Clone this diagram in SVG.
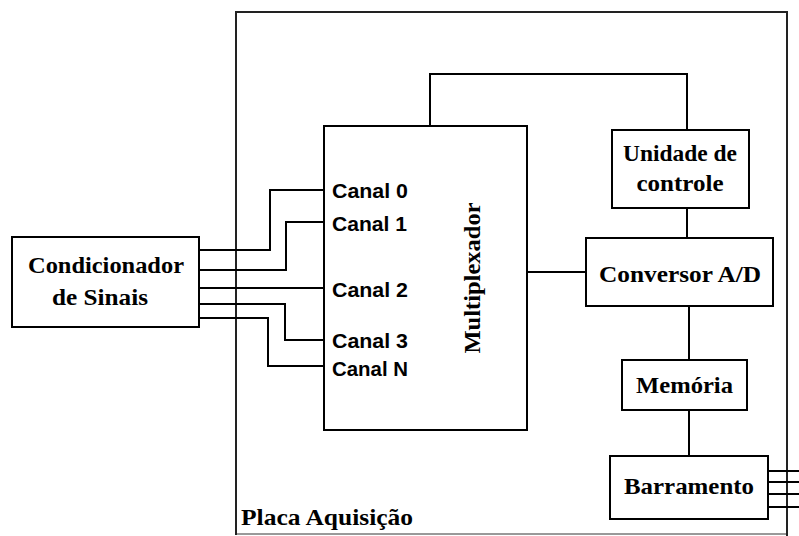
<svg xmlns="http://www.w3.org/2000/svg" width="799" height="536" viewBox="0 0 799 536">
<style>
.box{fill:none;stroke:#000;stroke-width:2}
.placa{fill:none;stroke:#222;stroke-width:2}
.placa-bottom{fill:none;stroke:#999;stroke-width:2}
.wire{fill:none;stroke:#000;stroke-width:2}
.lbl{font-family:"Liberation Serif","Times New Roman",serif;font-weight:bold;font-size:24px;fill:#000}
.ch{font-family:"Liberation Sans",Arial,sans-serif;font-weight:bold;font-size:21px;fill:#000}
</style>
<rect width="799" height="536" fill="#fff"/>
<g id="placa">
<line class="placa-bottom" x1="236" y1="534" x2="787" y2="534"/>
<polyline class="placa" points="236,535 236,12 787,12 787,536"/>
<text class="lbl" x="241" y="525" textLength="172" lengthAdjust="spacingAndGlyphs">Placa Aquisição</text>
</g>
<g id="connectors">
<polyline class="wire" points="199,250 270,250 270,190 324,190"/>
<polyline class="wire" points="199,270 286,270 286,222 324,222"/>
<polyline class="wire" points="199,288 324,288"/>
<polyline class="wire" points="199,304 285,304 285,340 324,340"/>
<polyline class="wire" points="199,318 268,318 268,366 324,366"/>
<polyline class="wire" points="430,126 430,74 687,74 687,130"/>
<line class="wire" x1="687" y1="208" x2="687" y2="238"/>
<line class="wire" x1="527" y1="272" x2="586" y2="272"/>
<line class="wire" x1="689" y1="306" x2="689" y2="360"/>
<line class="wire" x1="689" y1="410" x2="689" y2="456"/>
<line class="wire" x1="769" y1="471" x2="799" y2="471"/>
<line class="wire" x1="769" y1="482" x2="799" y2="482"/>
<line class="wire" x1="769" y1="494" x2="799" y2="494"/>
<line class="wire" x1="769" y1="507" x2="799" y2="507"/>
</g>
<g id="condicionador">
<rect class="box" x="12" y="237" width="187" height="90"/>
<text class="lbl" x="106" y="273" text-anchor="middle" textLength="156" lengthAdjust="spacingAndGlyphs">Condicionador</text>
<text class="lbl" x="100" y="305" text-anchor="middle" textLength="96" lengthAdjust="spacingAndGlyphs">de Sinais</text>
</g>
<g id="multiplexador">
<rect class="box" x="324" y="126" width="203" height="304"/>
<text class="ch" x="332" y="198" textLength="76" lengthAdjust="spacingAndGlyphs">Canal 0</text>
<text class="ch" x="332" y="231" textLength="75" lengthAdjust="spacingAndGlyphs">Canal 1</text>
<text class="ch" x="332" y="297" textLength="76" lengthAdjust="spacingAndGlyphs">Canal 2</text>
<text class="ch" x="332" y="348" textLength="76" lengthAdjust="spacingAndGlyphs">Canal 3</text>
<text class="ch" x="332" y="376" textLength="76" lengthAdjust="spacingAndGlyphs">Canal N</text>
<text class="lbl" transform="translate(480,278) rotate(-90)" text-anchor="middle" textLength="151" lengthAdjust="spacingAndGlyphs">Multiplexador</text>
</g>
<g id="unidade">
<rect class="box" x="612" y="130" width="137" height="78"/>
<text class="lbl" x="680" y="161" text-anchor="middle" textLength="114" lengthAdjust="spacingAndGlyphs">Unidade de</text>
<text class="lbl" x="680" y="191" text-anchor="middle" textLength="87" lengthAdjust="spacingAndGlyphs">controle</text>
</g>
<g id="conversor">
<rect class="box" x="586" y="238" width="187" height="68"/>
<text class="lbl" x="680" y="282" text-anchor="middle" textLength="162" lengthAdjust="spacingAndGlyphs">Conversor A/D</text>
</g>
<g id="memoria">
<rect class="box" x="622" y="360" width="125" height="50"/>
<text class="lbl" x="684.5" y="393" text-anchor="middle" textLength="97" lengthAdjust="spacingAndGlyphs">Memória</text>
</g>
<g id="barramento">
<rect class="box" x="610" y="456" width="158" height="63"/>
<text class="lbl" x="689" y="494" text-anchor="middle" textLength="130" lengthAdjust="spacingAndGlyphs">Barramento</text>
</g>
</svg>
